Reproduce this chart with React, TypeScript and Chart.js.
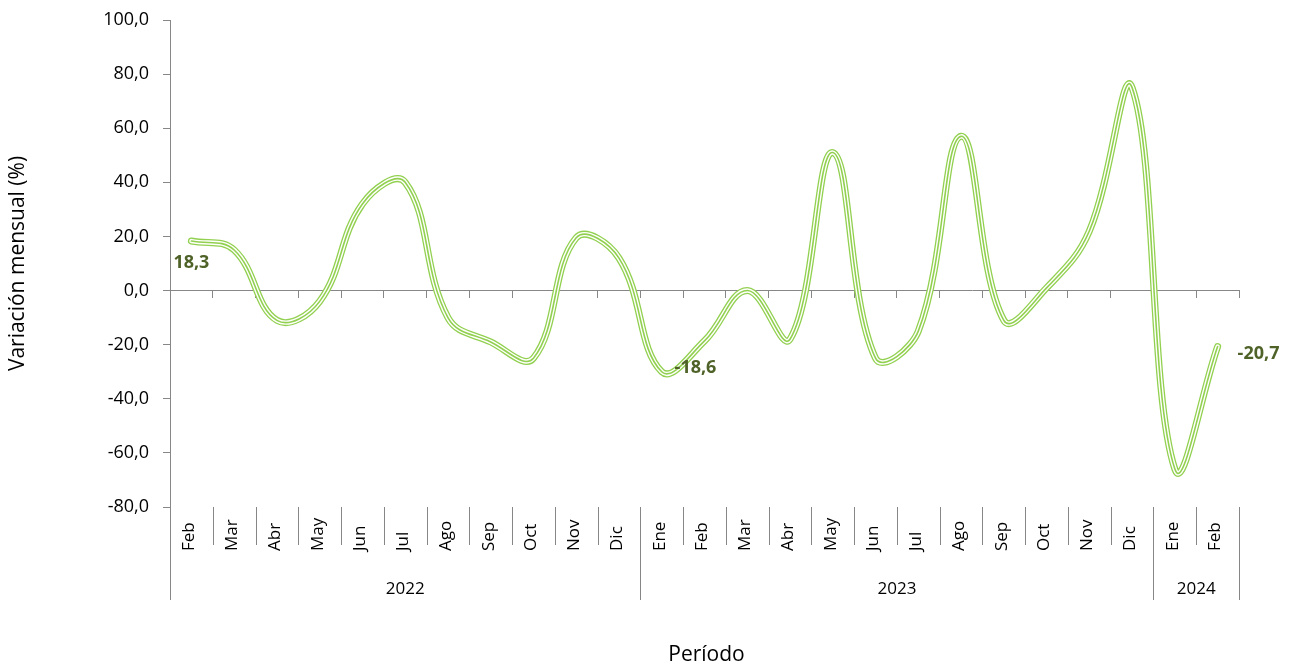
import React, { useEffect, useRef } from "react";
import { Chart, registerables } from "chart.js";

Chart.register(...registerables);

const months = ["Feb", "Mar", "Abr", "May", "Jun", "Jul", "Ago", "Sep", "Oct", "Nov", "Dic", "Ene", "Feb", "Mar", "Abr", "May", "Jun", "Jul", "Ago", "Sep", "Oct", "Nov", "Dic", "Ene", "Feb"];
const years = ["2022", "2023", "2024"];
const yearSpans = [11, 12, 2];
const values = [18.3, 15.0, -11.0, -4.0, 32.0, 40.0, -10.0, -19.0, -25.0, 19.5, 12.0, -30.0, -18.6, 0.0, -18.0, 51.0, -25.0, -15.0, 57.0, -11.0, 1.0, 22.0, 75.0, -66.0, -20.7];
const labeledIdx = [0, 12, 24];
const yMin = -80;
const yMax = 100;
const yStep = 20;

const FONT = "'Open Sans', 'Noto Sans', sans-serif";
const GREEN = "#92D050";
const LABEL_GREEN = "#4F6228";
const AXIS = "#878787";

const fmt = (v: number) => v.toFixed(1).replace(".", ",");

const labelPlugin = {
  id: "customLabels",
  afterDraw(chart: any) {
    const ctx = chart.ctx;
    const x = chart.scales.x;
    const y = chart.scales.y;
    const area = chart.chartArea;
    const n = months.length;
    const w = x.getPixelForValue(1) - x.getPixelForValue(0);
    const edge = (i: number) => x.getPixelForValue(0) + (i - 0.5) * w;
    const bottom = area.bottom;
    const monthRowEnd = bottom + 38;
    const yearRowEnd = bottom + 93;

    ctx.save();
    ctx.strokeStyle = AXIS;
    ctx.lineWidth = 1;
    const groupEdges: number[] = [0];
    let acc = 0;
    yearSpans.forEach((s) => { acc += s; groupEdges.push(acc); });
    for (let i = 0; i <= n; i++) {
      const px = Math.round(edge(i)) + 0.5;
      const isGroup = groupEdges.includes(i);
      ctx.beginPath();
      ctx.moveTo(px, bottom);
      ctx.lineTo(px, isGroup ? yearRowEnd : monthRowEnd);
      ctx.stroke();
    }

    ctx.fillStyle = "#000";
    ctx.font = `17px ${FONT}`;
    months.forEach((m, i) => {
      const cx = x.getPixelForValue(i);
      ctx.save();
      ctx.translate(cx - 2, bottom + 44);
      ctx.rotate(-Math.PI / 2);
      ctx.textAlign = "left";
      ctx.textBaseline = "middle";
      ctx.fillText(m, 0, 0);
      ctx.restore();
    });

    ctx.textAlign = "center";
    ctx.textBaseline = "middle";
    let start = 0;
    years.forEach((yr, gi) => {
      const end = start + yearSpans[gi];
      const cx = (edge(start) + edge(end)) / 2;
      ctx.fillText(yr, cx, bottom + 82);
      start = end;
    });

    ctx.font = `21px ${FONT}`;
    ctx.fillText("Período", (area.left + area.right) / 2 + 2, 655);

    ctx.font = `bold 18px ${FONT}`;
    ctx.fillStyle = LABEL_GREEN;
    const offsets: Record<number, [number, number, CanvasTextAlign]> = {
      0: [0, 22, "center"],
      12: [-9, 27, "center"],
      24: [20, 7, "left"],
    };
    labeledIdx.forEach((i) => {
      const px = x.getPixelForValue(i);
      const py = y.getPixelForValue(values[i]);
      const [dx, dy, al] = offsets[i];
      ctx.textAlign = al;
      ctx.fillText(fmt(values[i]), px + dx, py + dy);
    });
    ctx.restore();
  },
};

export default function App() {
  const ref = useRef<HTMLCanvasElement | null>(null);
  useEffect(() => {
    if (!ref.current) return;
    const common = {
      data: values,
      pointRadius: 0,
      pointHoverRadius: 0,
      tension: 0.4,
      borderCapStyle: "round" as const,
      borderJoinStyle: "round" as const,
      fill: false,
    };
    const chart = new Chart(ref.current, {
      type: "line",
      data: {
        labels: months,
        datasets: [
          { ...common, label: "inner", borderColor: GREEN, borderWidth: 1.6, order: 0 },
          { ...common, label: "gap", borderColor: "#ffffff", borderWidth: 4.4, order: 1 },
          { ...common, label: "outer", borderColor: GREEN, borderWidth: 7, order: 2 },
        ],
      },
      options: {
        responsive: false,
        animation: false,
        devicePixelRatio: 1,
        events: [],
        layout: { padding: { top: 20, right: 55, bottom: 160, left: 0 } },
        plugins: { legend: { display: false }, tooltip: { enabled: false }, title: { display: false } },
        scales: {
          x: {
            type: "category",
            position: { y: 0 } as any,
            offset: true,
            ticks: { display: false },
            grid: { display: true, offset: true, drawOnChartArea: false, drawTicks: true, tickLength: 7, color: AXIS, lineWidth: 1 },
            border: { display: true, color: AXIS, width: 1 },
          },
          y: {
            min: yMin,
            max: yMax,
            afterFit: (s: any) => { s.width = 170; s.paddingTop = 0; s.paddingBottom = 0; },
            ticks: {
              stepSize: yStep,
              padding: 14,
              color: "#000",
              font: { family: FONT, size: 18 },
              callback: (v: any) => fmt(Number(v)),
            },
            grid: { drawOnChartArea: false, drawTicks: true, tickLength: 7, color: AXIS },
            border: { display: true, color: AXIS, width: 1 },
            title: {
              display: true,
              text: "Variación mensual (%)",
              color: "#000",
              font: { family: FONT, size: 21 },
              padding: { top: 5, bottom: 0 },
            },
          },
        },
      },
      plugins: [labelPlugin],
    } as any);
    return () => chart.destroy();
  }, []);
  return (
    <div style={{ position: "fixed", left: 0, top: 0, width: 1294, height: 667, background: "#fff" }}>
      <canvas ref={ref} width={1294} height={667} style={{ width: 1294, height: 667, display: "block" }} />
    </div>
  );
}
